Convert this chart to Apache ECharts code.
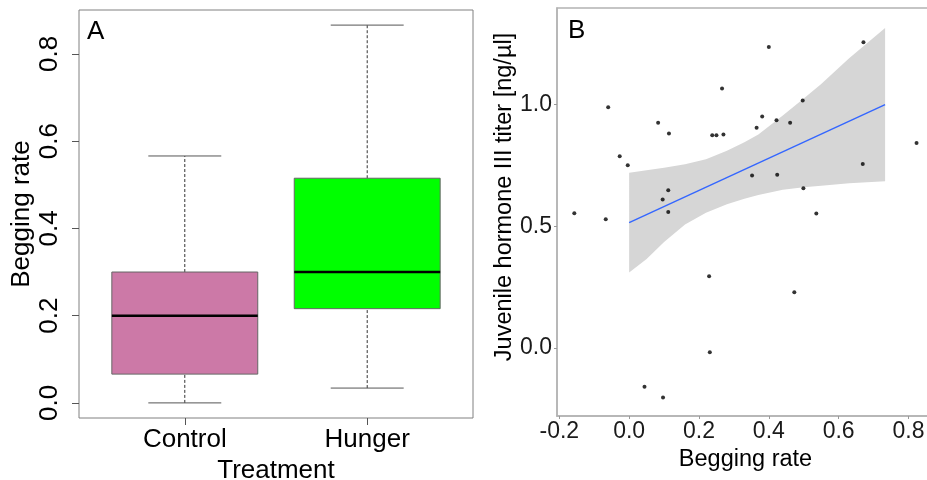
<!DOCTYPE html>
<html>
<head>
<meta charset="utf-8">
<script src="https://cdn.jsdelivr.net/npm/echarts@6/dist/echarts.min.js"></script>
<style>
  html, body { margin: 0; padding: 0; background: #fff; }
  #chart { width: 927px; height: 480px; }
</style>
</head>
<body>
<div id="chart"></div>
<script>
// Panel A: begging rate by treatment (box plot summaries)
const categories = ['Control', 'Hunger'];
const boxColors = ['#CC79A7', '#00FF00'];
const boxMin = [0.0, 0.034];
const boxQ1 = [0.066, 0.216];
const boxMedian = [0.2, 0.3];
const boxQ3 = [0.3, 0.515];
const boxMax = [0.566, 0.866];
const leftTicks = [0, 0.2, 0.4, 0.6, 0.8];

// Panel B: juvenile hormone III titer vs begging rate
const begX = [-0.157, -0.060, -0.067, -0.027, -0.004, 0.083, 0.114, 0.096, 0.112, 0.112,
  0.238, 0.250, 0.270, 0.266, 0.400, 0.365, 0.381, 0.422, 0.461, 0.497,
  0.352, 0.424, 0.499, 0.536, 0.671, 0.669, 0.823, 0.229, 0.473, 0.231, 0.044, 0.097];
const jhY = [0.553, 0.989, 0.529, 0.788, 0.751, 0.925, 0.881, 0.610, 0.648, 0.559,
  0.874, 0.874, 0.877, 1.066, 1.237, 0.905, 0.951, 0.936, 0.925, 1.017,
  0.709, 0.712, 0.656, 0.552, 1.256, 0.756, 0.842, 0.294, 0.229, -0.018, -0.160, -0.204];
const fitX = [0, 0.733];
const fitY = [0.515, 1.0];
const bandX = [0, 0.05, 0.10, 0.16, 0.22, 0.28, 0.33, 0.37, 0.44, 0.50, 0.55, 0.63, 0.733];
const bandUpper = [0.72, 0.73, 0.74, 0.755, 0.775, 0.81, 0.845, 0.877, 0.955, 1.025, 1.085, 1.19, 1.315];
const bandLower = [0.31, 0.365, 0.435, 0.507, 0.555, 0.59, 0.613, 0.628, 0.65, 0.66, 0.666, 0.677, 0.685];
const rightXTicks = [-0.2, 0, 0.2, 0.4, 0.6, 0.8];
const rightYTicks = [0, 0.5, 1.0];

const FONT = '"Liberation Sans", Arial, sans-serif';
const chart = echarts.init(document.getElementById('chart'), null, { renderer: 'canvas' });

const boxData = categories.map((c, i) => [i + 1, boxMin[i], boxQ1[i], boxMedian[i], boxQ3[i], boxMax[i]]);
const points = begX.map((x, i) => [x, jhY[i]]);
const fitLine = fitX.map((x, i) => [x, fitY[i]]);

function renderBox(params, api) {
  const pos = api.value(0);
  const mn = api.value(1), q1 = api.value(2), md = api.value(3), q3 = api.value(4), mx = api.value(5);
  const half = 0.4, cap = 0.2;
  const c = (x, y) => api.coord([x, y]);
  const pMin = c(pos, mn), pQ1 = c(pos, q1), pQ3 = c(pos, q3), pMax = c(pos, mx);
  const tl = c(pos - half, q3), br = c(pos + half, q1);
  const mdL = c(pos - half, md), mdR = c(pos + half, md);
  const capMinL = c(pos - cap, mn), capMinR = c(pos + cap, mn);
  const capMaxL = c(pos - cap, mx), capMaxR = c(pos + cap, mx);
  const dash = { stroke: '#333', lineWidth: 1, lineDash: [3, 2] };
  const solid = { stroke: '#555', lineWidth: 1 };
  return {
    type: 'group',
    children: [
      { type: 'line', shape: { x1: pMin[0], y1: pMin[1], x2: pQ1[0], y2: pQ1[1] }, style: dash },
      { type: 'line', shape: { x1: pQ3[0], y1: pQ3[1], x2: pMax[0], y2: pMax[1] }, style: dash },
      { type: 'line', shape: { x1: capMinL[0], y1: capMinL[1], x2: capMinR[0], y2: capMinR[1] }, style: solid },
      { type: 'line', shape: { x1: capMaxL[0], y1: capMaxL[1], x2: capMaxR[0], y2: capMaxR[1] }, style: solid },
      { type: 'rect', shape: { x: tl[0], y: tl[1], width: br[0] - tl[0], height: br[1] - tl[1] },
        style: { fill: boxColors[params.dataIndex], stroke: '#666', lineWidth: 1 } },
      { type: 'line', shape: { x1: mdL[0], y1: mdL[1], x2: mdR[0], y2: mdR[1] },
        style: { stroke: '#000', lineWidth: 2.5 } }
    ]
  };
}

function renderBand(params, api) {
  const pts = [];
  for (let i = 0; i < bandX.length; i++) pts.push(api.coord([bandX[i], bandUpper[i]]));
  for (let i = bandX.length - 1; i >= 0; i--) pts.push(api.coord([bandX[i], bandLower[i]]));
  return { type: 'polygon', shape: { points: pts }, style: { fill: '#D6D6D6' } };
}

const option = {
  animation: false,
  backgroundColor: '#fff',
  textStyle: { fontFamily: FONT },
  grid: [
    { left: 79, top: 10, width: 394, height: 408, outerBoundsMode: 'none', containLabel: false,
      show: true, borderColor: '#808080', borderWidth: 1, backgroundColor: 'transparent' },
    { left: 557, top: 8, width: 377, height: 408, outerBoundsMode: 'none', containLabel: false,
      show: true, borderColor: '#B3B3B3', borderWidth: 1.5, backgroundColor: 'transparent' }
  ],
  xAxis: [
    {
      gridIndex: 0, type: 'value', min: 0.42, max: 2.58,
      name: 'Treatment', nameLocation: 'middle', nameGap: 34,
      nameTextStyle: { fontSize: 26, color: '#000', fontFamily: FONT },
      axisLine: { show: false, onZero: false },
      splitLine: { show: false },
      axisTick: { show: true, customValues: [1, 2], length: 7, lineStyle: { color: '#555' } },
      axisLabel: { customValues: [1, 2], formatter: v => categories[Math.round(v) - 1], fontSize: 26, color: '#000', margin: 9, fontFamily: FONT }
    },
    {
      gridIndex: 1, type: 'value', min: -0.2066, max: 0.873,
      name: 'Begging rate', nameLocation: 'middle', nameGap: 27,
      nameTextStyle: { fontSize: 23.5, color: '#000', fontFamily: FONT },
      axisLine: { show: true, onZero: false, lineStyle: { color: '#B3B3B3', width: 1.5 } },
      splitLine: { show: false },
      axisTick: { show: true, customValues: rightXTicks, length: 3, lineStyle: { color: '#999' } },
      axisLabel: { customValues: rightXTicks, formatter: v => v.toFixed(1), fontSize: 23, color: '#1a1a1a', margin: 4, fontFamily: FONT }
    }
  ],
  yAxis: [
    {
      gridIndex: 0, type: 'value', min: -0.0346, max: 0.9006,
      name: 'Begging rate', nameLocation: 'middle', nameGap: 44, nameRotate: 90,
      nameTextStyle: { fontSize: 26, color: '#000', fontFamily: FONT },
      axisLine: { show: false, onZero: false },
      splitLine: { show: false },
      axisTick: { show: true, customValues: leftTicks, length: 7, lineStyle: { color: '#555' } },
      axisLabel: { customValues: leftTicks, formatter: v => v.toFixed(1), rotate: 90, fontSize: 26, color: '#000', margin: 16, fontFamily: FONT }
    },
    {
      gridIndex: 1, type: 'value', min: -0.28, max: 1.397,
      axisLine: { show: true, onZero: false, lineStyle: { color: '#B3B3B3', width: 1.5 } },
      splitLine: { show: false },
      axisTick: { show: true, customValues: rightYTicks, length: 3, lineStyle: { color: '#999' } },
      axisLabel: { customValues: rightYTicks, formatter: v => v.toFixed(1), fontSize: 23, color: '#1a1a1a', margin: 5, fontFamily: FONT }
    }
  ],
  series: [
    {
      type: 'custom', xAxisIndex: 0, yAxisIndex: 0, silent: true,
      renderItem: renderBox, data: boxData,
      encode: { x: 0, y: [1, 2, 3, 4, 5] }
    },
    {
      type: 'custom', xAxisIndex: 1, yAxisIndex: 1, silent: true,
      renderItem: renderBand, data: [[bandX[0], bandUpper[0]]],
      encode: { x: 0, y: 1 }, z: 1
    },
    {
      type: 'line', xAxisIndex: 1, yAxisIndex: 1, silent: true,
      data: fitLine, symbol: 'none',
      lineStyle: { color: '#3366FF', width: 1.4 }, z: 2
    },
    {
      type: 'scatter', xAxisIndex: 1, yAxisIndex: 1, silent: true,
      data: points, symbol: 'circle', symbolSize: 4,
      itemStyle: { color: '#000' }, z: 3
    }
  ],
  graphic: [
    { type: 'text', left: 87, top: 19, style: { text: 'A', font: '26px ' + FONT, fill: '#000' } },
    { type: 'text', left: 568, top: 18, style: { text: 'B', font: '26px ' + FONT, fill: '#000' } },
    {
      type: 'text', x: 505, y: 197, rotation: Math.PI / 2,
      style: { text: 'Juvenile hormone III titer [ng/µl]', font: '23.5px ' + FONT, fill: '#000', align: 'center', verticalAlign: 'middle' }
    }
  ]
};

chart.setOption(option);
</script>
</body>
</html>
